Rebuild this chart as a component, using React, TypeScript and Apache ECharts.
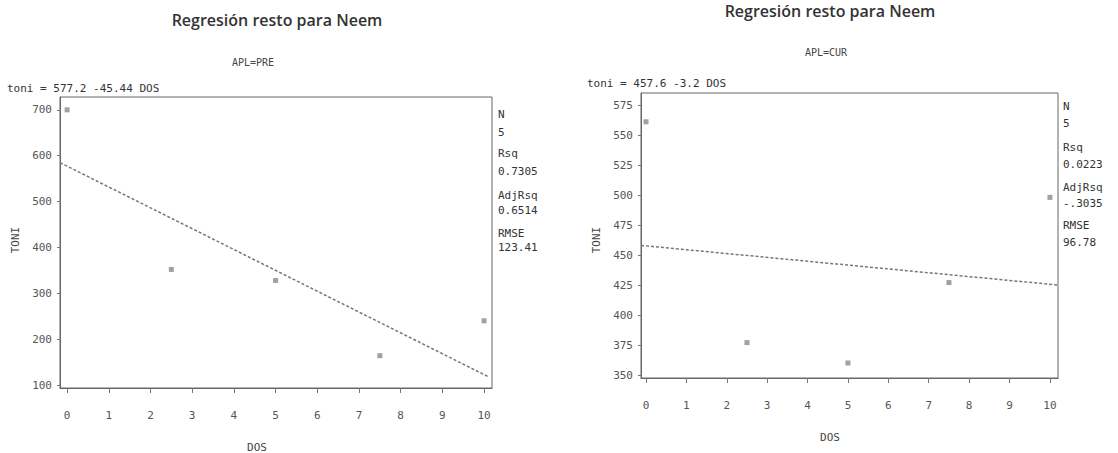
import React, { useEffect, useRef } from "react";
import * as echarts from "echarts";

const titleText = "Regresión resto para Neem";
const subtitles = ["APL=PRE", "APL=CUR"];
const equations = ["toni = 577.2 -45.44 DOS", "toni = 457.6 -3.2 DOS"];
const xName = "DOS";
const yName = "TONI";
const dos = [0, 2.5, 5, 7.5, 10];
const toniPre = [700, 352, 328, 164, 240];
const toniCur = [561, 377, 360, 427, 498];
const fitPre = [577.2, -45.44];
const fitCur = [457.6, -3.2];
const xTicks = [0, 1, 2, 3, 4, 5, 6, 7, 8, 9, 10];
const yTicksPre = [100, 200, 300, 400, 500, 600, 700];
const yTicksCur = [350, 375, 400, 425, 450, 475, 500, 525, 550, 575];
const statsPre = ["N", "5", "Rsq", "0.7305", "AdjRsq", "0.6514", "RMSE", "123.41"];
const statsCur = ["N", "5", "Rsq", "0.0223", "AdjRsq", "-.3035", "RMSE", "96.78"];

const MONO = "DejaVu Sans Mono";

export default function App() {
  const ref = useRef<HTMLDivElement>(null);
  useEffect(() => {
    if (!ref.current) return;
    const chart = echarts.init(ref.current, null, { renderer: "svg" });

    const panels = [
      {
        grid: { left: 60, top: 97, width: 432, height: 291 },
        xRange: [-0.17, 10.19],
        yRange: [93.5, 728],
        yTicks: yTicksPre,
        y: toniPre,
        fit: fitPre,
        lineEnd: 10.1,
      },
      {
        grid: { left: 641, top: 93, width: 417, height: 285 },
        xRange: [-0.124, 10.2],
        yRange: [347.5, 585],
        yTicks: yTicksCur,
        y: toniCur,
        fit: fitCur,
        lineEnd: 10.2,
      },
    ];

    const axisText = { fontFamily: MONO, fontSize: 11, color: "#555" };

    const grids = panels.map((p) => ({
      ...p.grid,
      show: true,
      borderColor: "#666",
      borderWidth: 1,
      backgroundColor: "transparent",
    }));

    const xAxes = panels.map((p, i) => ({
      type: "value",
      gridIndex: i,
      min: p.xRange[0],
      max: p.xRange[1],
      axisLine: { show: true, onZero: false, lineStyle: { color: "#666", width: 1.2 } },
      axisTick: { show: true, customValues: xTicks, length: 5, lineStyle: { color: "#777" } },
      axisLabel: { ...axisText, customValues: xTicks, margin: 22 },
      splitLine: { show: false },
    }));

    const yAxes = panels.map((p, i) => ({
      type: "value",
      gridIndex: i,
      min: p.yRange[0],
      max: p.yRange[1],
      axisLine: { show: true, onZero: false, lineStyle: { color: "#666", width: 1 } },
      axisTick: { show: true, customValues: p.yTicks, length: 3, lineStyle: { color: "#777" } },
      axisLabel: { ...axisText, customValues: p.yTicks, margin: 8 },
      splitLine: { show: false },
    }));

    const series: any[] = [];
    panels.forEach((p, i) => {
      series.push({
        type: "scatter",
        xAxisIndex: i,
        yAxisIndex: i,
        data: dos.map((x, k) => [x, p.y[k]]),
        symbol: "rect",
        symbolSize: 5,
        itemStyle: { color: "#8a8a8a" },
      });
      const x0 = p.xRange[0];
      const x1 = p.lineEnd;
      series.push({
        type: "line",
        xAxisIndex: i,
        yAxisIndex: i,
        data: [
          [x0, p.fit[0] + p.fit[1] * x0],
          [x1, p.fit[0] + p.fit[1] * x1],
        ],
        symbol: "none",
        lineStyle: { color: "#777", width: 1.5, type: [3, 2] },
      });
    });

    const txt = (
      text: string,
      x: number,
      y: number,
      font: string,
      fill: string,
      align = "left",
      rotation = 0
    ) => ({
      type: "text",
      x,
      y,
      rotation,
      style: { text, font, fill, textAlign: align, textVerticalAlign: "middle" },
    });

    const graphics: any[] = [
      txt(titleText, 277, 20, "600 16px 'Open Sans'", "#333", "center"),
      txt(titleText, 830, 11, "600 16px 'Open Sans'", "#333", "center"),
      txt(subtitles[0], 253, 62, `10px ${MONO}`, "#444", "center"),
      txt(subtitles[1], 826, 52, `10px ${MONO}`, "#444", "center"),
      txt(equations[0], 7, 88, `11px ${MONO}`, "#333"),
      txt(equations[1], 587, 83, `11px ${MONO}`, "#333"),
      txt(xName, 257, 447, `11px ${MONO}`, "#444", "center"),
      txt(xName, 830, 437, `11px ${MONO}`, "#444", "center"),
      txt(yName, 15, 240, `11px ${MONO}`, "#444", "center", Math.PI / 2),
      txt(yName, 596, 240, `11px ${MONO}`, "#444", "center", Math.PI / 2),
    ];
    const rowsPre = [114, 132, 153, 171, 195, 210, 233, 247];
    const rowsCur = [106, 123, 147, 164, 187, 203, 225, 242];
    statsPre.forEach((s, k) => graphics.push(txt(s, 498, rowsPre[k], `11px ${MONO}`, "#333")));
    statsCur.forEach((s, k) => graphics.push(txt(s, 1063, rowsCur[k], `11px ${MONO}`, "#333")));

    chart.setOption({
      animation: false,
      backgroundColor: "#fff",
      grid: grids,
      xAxis: xAxes,
      yAxis: yAxes,
      series,
      graphic: graphics,
    });
    return () => chart.dispose();
  }, []);
  return (
    <div
      ref={ref}
      style={{ position: "absolute", left: 0, top: 0, width: 1118, height: 453 }}
    />
  );
}
